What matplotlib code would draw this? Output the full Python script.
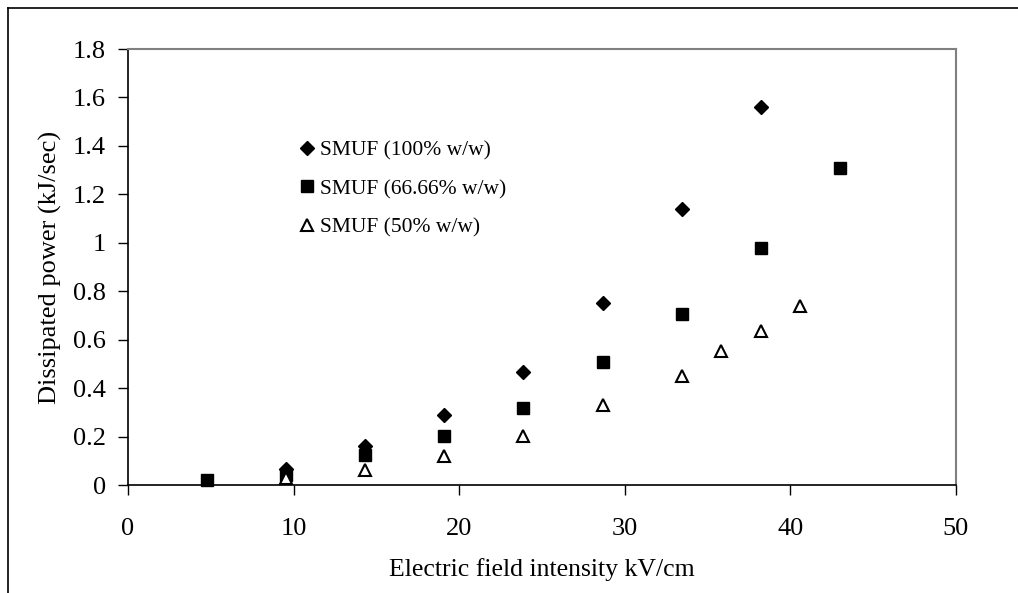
import matplotlib
matplotlib.use("Agg")
import matplotlib.pyplot as plt
from matplotlib.lines import Line2D

plt.rcParams['font.family'] = ['Liberation Serif', 'DejaVu Serif']

# Electric field intensity (kV/cm) and dissipated power (kJ/sec)
x_100 = [9.55, 14.33, 19.1, 23.88, 28.66, 33.44, 38.2]
y_100 = [0.065, 0.16, 0.288, 0.465, 0.75, 1.138, 1.562]

x_66 = [4.8, 9.55, 14.33, 19.1, 23.88, 28.66, 33.44, 38.2, 43.0]
y_66 = [0.019, 0.04, 0.122, 0.204, 0.316, 0.509, 0.705, 0.98, 1.308]

x_50 = [9.55, 14.33, 19.1, 23.88, 28.66, 33.44, 35.8, 38.2, 40.6]
y_50 = [0.03, 0.062, 0.12, 0.202, 0.33, 0.45, 0.555, 0.636, 0.74]

labels = ["SMUF (100% w/w)", "SMUF (66.66% w/w)", "SMUF (50% w/w)"]
x_ticks = [0, 10, 20, 30, 40, 50]
y_ticks = [0, 0.2, 0.4, 0.6, 0.8, 1, 1.2, 1.4, 1.6, 1.8]
y_tick_labels = ["0", "0.2", "0.4", "0.6", "0.8", "1", "1.2", "1.4", "1.6", "1.8"]

W, H = 1018, 593
fig = plt.figure(figsize=(W / 100, H / 100), dpi=100)
ax = fig.add_axes([128 / W, 1 - 485 / H, (956 - 128) / W, (485 - 49) / H])

ax.plot(x_100, y_100, linestyle="none", marker="D", markersize=7,
        color="black", label=labels[0], clip_on=False)
ax.plot(x_66, y_66, linestyle="none", marker="s", markersize=9,
        color="black", label=labels[1], clip_on=False)
ax.plot(x_50, y_50, linestyle="none", marker="^", markersize=8.5,
        markerfacecolor="white", markeredgecolor="black", markeredgewidth=1.5,
        label=labels[2], clip_on=False)

ax.set_xlim(0, 50)
ax.set_ylim(0, 1.8)
ax.set_xticks(x_ticks)
ax.set_xticklabels([str(v) for v in x_ticks])
ax.set_yticks(y_ticks)
ax.set_yticklabels(y_tick_labels)
ax.tick_params(axis="both", direction="out", length=7, width=1, colors="black",
               labelsize=19)
ax.tick_params(axis="y", pad=9)
ax.tick_params(axis="x", pad=17)

for side in ("left", "bottom"):
    ax.spines[side].set_color("black")
    ax.spines[side].set_linewidth(1.2)
for side in ("top", "right"):
    ax.spines[side].set_color("#808080")
    ax.spines[side].set_linewidth(1.5)

ax.set_xlabel("Electric field intensity kV/cm", fontsize=18.5, labelpad=13)
ax.set_ylabel("Dissipated power (kJ/sec)", fontsize=19, labelpad=8)

ax.legend(loc="upper left", bbox_to_anchor=(0.205, 0.79), frameon=False,
          fontsize=15.5, handletextpad=0.15, labelspacing=0.85,
          handlelength=0.9, borderaxespad=0, borderpad=0)

# Outer chart frame along the left and top edges
fig.add_artist(Line2D([8 / W, 8 / W], [0, 1 - 8 / H], color="black",
                      linewidth=1.2, transform=fig.transFigure))
fig.add_artist(Line2D([8 / W, 1], [1 - 8 / H, 1 - 8 / H], color="black",
                      linewidth=1.2, transform=fig.transFigure))

fig.savefig("out.png", dpi=100)
